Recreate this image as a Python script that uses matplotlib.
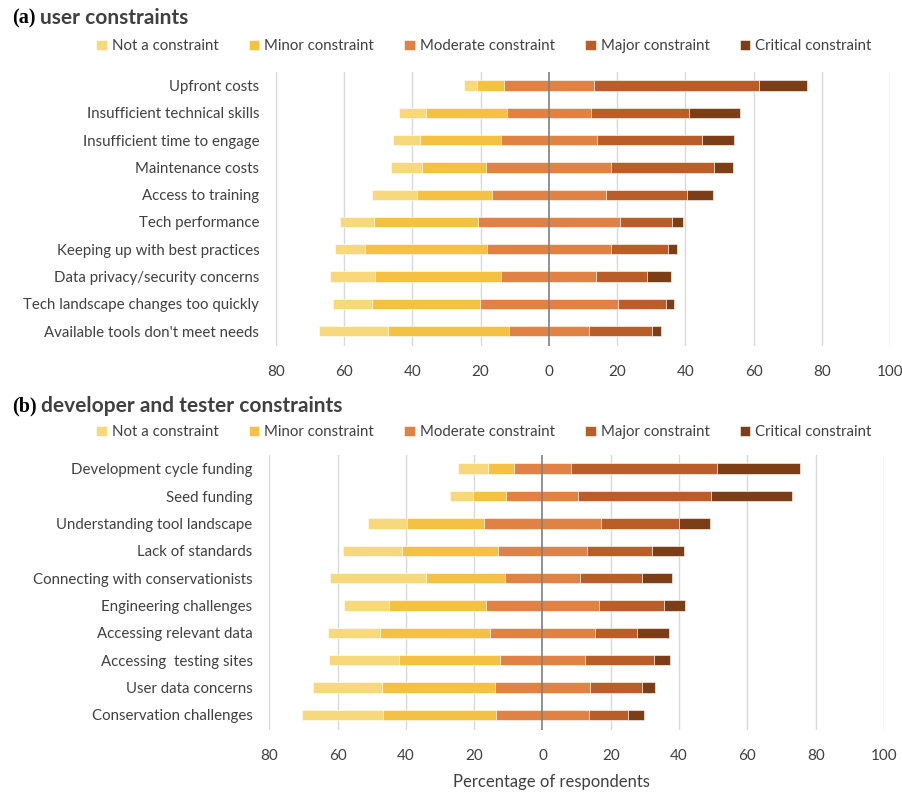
import numpy as np
import matplotlib
matplotlib.use('Agg')
import matplotlib.pyplot as plt

plt.rcParams['font.family'] = ['Lato', 'DejaVu Sans']

levels = ['Not a constraint', 'Minor constraint', 'Moderate constraint',
          'Major constraint', 'Critical constraint']
colors = ['#F7D87A', '#F4C142', '#E08244', '#B95E28', '#7B3E16']

# (a) user constraints, % of respondents
user_cats = ['Upfront costs', 'Insufficient technical skills', 'Insufficient time to engage',
             'Maintenance costs', 'Access to training', 'Tech performance',
             'Keeping up with best practices', 'Data privacy/security concerns',
             'Tech landscape changes too quickly', "Available tools don't meet needs"]
user_not = [3.7, 8.0, 8.0, 9.1, 13.3, 9.8, 8.7, 13.2, 11.4, 20.2]
user_minor = [7.9, 23.7, 23.6, 18.9, 22.0, 30.4, 35.7, 37.2, 31.5, 35.3]
user_moderate = [26.4, 24.6, 28.2, 36.7, 33.3, 41.8, 36.4, 27.8, 40.6, 23.5]
user_major = [48.4, 28.9, 30.7, 30.2, 23.8, 15.3, 16.8, 15.0, 14.1, 18.5]
user_critical = [14.0, 14.8, 9.6, 5.3, 7.7, 3.0, 2.5, 6.8, 2.4, 2.5]

# (b) developer and tester constraints
dev_cats = ['Development cycle funding', 'Seed funding', 'Understanding tool landscape',
            'Lack of standards', 'Connecting with conservationists', 'Engineering challenges',
            'Accessing relevant data', 'Accessing  testing sites', 'User data concerns',
            'Conservation challenges']
dev_not = [8.8, 6.8, 11.2, 17.4, 28.0, 13.2, 15.3, 20.3, 20.2, 23.7]
dev_minor = [7.7, 9.7, 22.5, 28.1, 23.1, 28.4, 32.3, 29.6, 33.2, 33.0]
dev_moderate = [16.6, 21.1, 34.5, 25.9, 22.2, 32.9, 30.5, 25.0, 27.8, 27.4]
dev_major = [42.7, 38.7, 22.6, 19.2, 18.1, 19.1, 12.4, 20.1, 15.2, 11.4]
dev_critical = [24.3, 23.8, 9.3, 9.4, 8.7, 6.3, 9.4, 4.8, 3.8, 4.7]

xticks = np.arange(-80, 101, 20)
txt = '#404040'

fig = plt.figure(figsize=(9.03, 7.96), dpi=100)
ax1 = fig.add_axes([0.3056, 0.5653, 0.680, 0.3442])
ax2 = fig.add_axes([0.2982, 0.0829, 0.6807, 0.3455])


def diverging(ax, cats, series):
    y = np.arange(len(cats))
    series = [np.array(s) for s in series]
    left = -(series[0] + series[1] + series[2] / 2)
    bars = []
    for s, c, lab in zip(series, colors, levels):
        b = ax.barh(y, s, left=left, height=0.38, color=c, edgecolor='white',
                    linewidth=0.4, label=lab, zorder=2)
        bars.append(b)
        left = left + s
    ax.set_xlim(-80, 100)
    ax.set_ylim(len(cats) - 0.45, -0.5)
    ax.set_yticks(y)
    ax.set_yticklabels(cats, fontsize=10.8, color=txt)
    ax.set_xticks(xticks)
    ax.set_xticklabels([str(abs(v)) for v in xticks], fontsize=11, color=txt)
    ax.tick_params(axis='both', length=0)
    ax.tick_params(axis='y', pad=12)
    ax.tick_params(axis='x', pad=14)
    for v in xticks:
        if v != 0:
            ax.axvline(v, color='#d9d9d9', lw=1.0, zorder=1)
    ax.axvline(0, color='#7f7f7f', lw=1.2, zorder=3)
    for sp in ax.spines.values():
        sp.set_visible(False)
    return bars


bars = diverging(ax1, user_cats, [user_not, user_minor, user_moderate, user_major, user_critical])
diverging(ax2, dev_cats, [dev_not, dev_minor, dev_moderate, dev_major, dev_critical])

for ypos, tag, title in [(1 - 18 / 796, '(a)', 'user constraints'),
                         (1 - 406 / 796, '(b)', 'developer and tester constraints')]:
    t = fig.text(12 / 903, ypos, tag, fontsize=14.5, fontweight='bold',
                 family='Liberation Serif', color='black', va='center')
    plt.annotate(title, xy=(1, 0.5), xycoords=t, xytext=(3, 0), textcoords='offset points',
                 fontsize=15, fontweight='bold', color=txt, va='center', ha='left')

for ypos in [1 - 46 / 796, 1 - 432 / 796]:
    fig.legend(handles=bars, labels=levels, loc='center', bbox_to_anchor=(484 / 903, ypos),
               ncol=5, frameon=False, fontsize=10.8, handlelength=0.7, handleheight=0.7,
               handletextpad=0.35, columnspacing=2.0, labelcolor=txt)

fig.text(551 / 903, 1 - 782 / 796, 'Percentage of respondents', fontsize=12,
         color=txt, ha='center', va='center')

fig.savefig('out.png', dpi=100)
